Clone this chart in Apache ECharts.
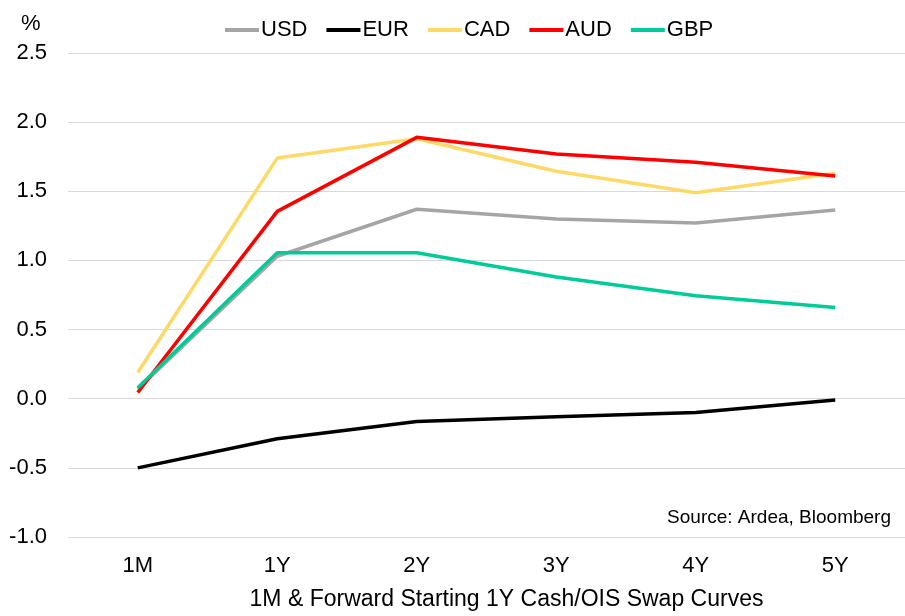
<!DOCTYPE html>
<html>
<head>
<meta charset="utf-8">
<script src="https://cdn.jsdelivr.net/npm/echarts@6/dist/echarts.min.js"></script>
<style>html,body{margin:0;padding:0;background:#fff}#c{width:905px;height:616px}</style>
</head>
<body>
<div id="c"></div>
<script>
const categories = ['1M', '1Y', '2Y', '3Y', '4Y', '5Y'];
const usd = [0.07, 1.03, 1.37, 1.30, 1.27, 1.365];
const eur = [-0.50, -0.29, -0.165, -0.13, -0.10, -0.01];
const cad = [0.19, 1.74, 1.88, 1.645, 1.49, 1.63];
const aud = [0.045, 1.355, 1.89, 1.77, 1.71, 1.61];
const gbp = [0.08, 1.055, 1.055, 0.88, 0.745, 0.66];
const seriesNames = ['USD', 'EUR', 'CAD', 'AUD', 'GBP'];
const colors = ['#A5A5A5', '#000000', '#FFD966', '#FF0000', '#00CC99'];
const FONT = 'Liberation Sans, Arial, sans-serif';

const chart = echarts.init(document.getElementById('c'), null, {renderer: 'canvas'});
const data = [usd, eur, cad, aud, gbp];
chart.setOption({
  animation: false,
  color: colors,
  grid: {left: 68, top: 53, width: 847, height: 490, containLabel: false},
  legend: {
    data: seriesNames,
    top: 14,
    left: 220,
    icon: 'rect',
    itemWidth: 34,
    itemHeight: 4,
    itemGap: 19,
    textStyle: {fontFamily: FONT, fontSize: 22, color: '#000', padding: [0, 0, 0, -3]}
  },
  xAxis: {
    type: 'category',
    data: categories,
    boundaryGap: true,
    axisLine: {show: false},
    axisTick: {show: false},
    axisLabel: {fontFamily: FONT, fontSize: 22, color: '#000', margin: 18},
    name: '1M & Forward Starting 1Y Cash/OIS Swap Curves',
    nameLocation: 'middle',
    nameGap: 51,
    nameTextStyle: {fontFamily: FONT, fontSize: 23, color: '#000', padding: [0, 0, 0, 40]}
  },
  yAxis: {
    type: 'value',
    min: -1.0,
    max: 2.5,
    interval: 0.5,
    axisLine: {show: false},
    axisTick: {show: false},
    splitLine: {lineStyle: {color: '#D9D9D9', width: 1}},
    axisLabel: {fontFamily: FONT, fontSize: 22, color: '#000', margin: 21,
      formatter: v => v.toFixed(1)}
  },
  graphic: [
    {type: 'text', left: 21, top: 13, style: {text: '%', font: '22px ' + FONT, fill: '#000'}},
    {type: 'text', right: 14, top: 508, style: {text: 'Source: Ardea, Bloomberg', font: '19px ' + FONT, fill: '#000'}}
  ],
  series: seriesNames.map((n, i) => ({
    name: n,
    type: 'line',
    data: data[i],
    symbol: 'none',
    lineStyle: {width: 3.5, color: colors[i]},
    itemStyle: {color: colors[i]}
  }))
});
</script>
</body>
</html>
